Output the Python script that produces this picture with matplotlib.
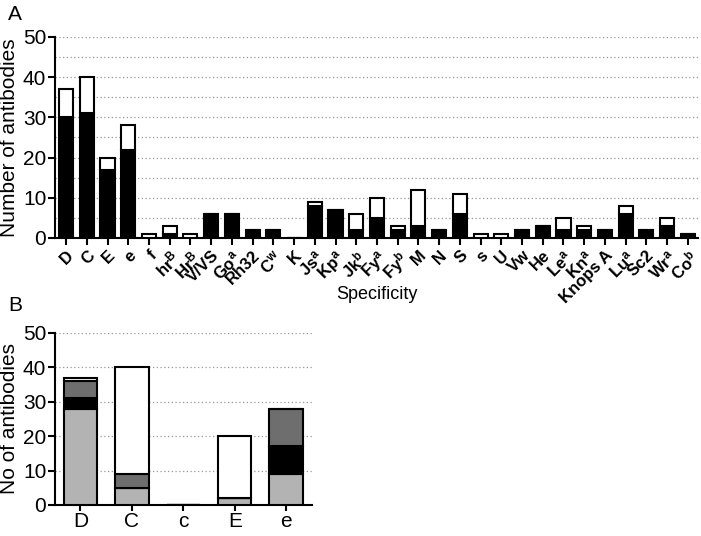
import numpy as np
import matplotlib
matplotlib.use("Agg")
import matplotlib.pyplot as plt

plt.rcParams['font.family'] = ['Liberation Sans', 'DejaVu Sans']
plt.rcParams['mathtext.fontset'] = 'custom'
plt.rcParams['mathtext.rm'] = 'Liberation Sans:bold'
plt.rcParams['mathtext.default'] = 'rm'

# Panel A: antibody specificities
spec = ['D', 'C', 'E', 'e', 'f', 'hr$^B$', 'Hr$^B$', 'V/VS', 'Go$^a$', 'Rh32',
        'C$^w$', 'K', 'Js$^a$', 'Kp$^a$', 'Jk$^b$', 'Fy$^a$', 'Fy$^b$', 'M', 'N',
        'S', 's', 'U', 'Vw', 'He', 'Le$^a$', 'Kn$^a$', 'Knops A', 'Lu$^a$',
        'Sc2', 'Wr$^a$', 'Co$^b$']
black_a = [30, 31, 17, 22, 0, 1, 0, 6, 6, 2, 2, 0, 8, 7, 2, 5, 2, 3, 2, 6,
           0, 0, 2, 3, 2, 2, 2, 6, 2, 3, 1]
total_a = [37, 40, 20, 28, 1, 3, 1, 6, 6, 2, 2, 0, 9, 7, 6, 10, 3, 12, 2, 11,
           1, 1, 2, 3, 5, 3, 2, 8, 2, 5, 1]

# Panel B: Rh antibodies split into groups
rh = ['D', 'C', 'c', 'E', 'e']
light_b = [28, 5, 0, 2, 9]
black_b = [3, 0, 0, 0, 8]
dark_b = [5, 4, 0, 0, 11]
white_b = [1, 31, 0, 18, 0]

fig = plt.figure(figsize=(7.01, 5.36), dpi=100)

# ---- Panel A ----
ax = fig.add_axes([0.078, 0.556, 0.918, 0.375])
x = np.arange(len(spec))
white_a = np.array(total_a) - np.array(black_a)
ax.bar(x, black_a, width=0.68, color='black', edgecolor='black', linewidth=1.5, zorder=3)
ax.bar(x, white_a, bottom=black_a, width=0.68, color='white', edgecolor='black',
       linewidth=1.5, zorder=3)
ax.set_xlim(-0.55, 30.5)
ax.set_ylim(0, 50)
ax.set_yticks(range(0, 51, 10))
for g in range(5, 51, 5):
    ax.axhline(g, color='#999999', linestyle=(0, (1, 2)), linewidth=0.9, zorder=1)
ax.set_xticks(x)
ax.set_xticklabels(spec, rotation=45, ha='right', rotation_mode='anchor',
                   fontweight='bold', fontsize=12)
ax.tick_params(axis='y', labelsize=15, width=1.5, length=5, pad=1)
ax.tick_params(axis='x', width=1.5, length=5, pad=2)
for s in ['top', 'right']:
    ax.spines[s].set_visible(False)
for s in ['left', 'bottom']:
    ax.spines[s].set_linewidth(1.5)
ax.set_ylabel('Number of antibodies', fontsize=15, labelpad=3)
ax.set_xlabel('Specificity', fontsize=13)
ax.xaxis.set_label_coords(0.5, -0.24)
fig.text(0.012, 0.99, 'A', fontsize=15, va='top')

# ---- Panel B ----
bx = fig.add_axes([0.078, 0.058, 0.367, 0.321])
xb = np.arange(len(rh))
b1 = np.array(light_b)
b2 = b1 + np.array(black_b)
b3 = b2 + np.array(dark_b)
kw = dict(width=0.65, edgecolor='black', linewidth=1.5, zorder=3)
bx.bar(xb, light_b, color='#b3b3b3', **kw)
bx.bar(xb, black_b, bottom=b1, color='black', **kw)
bx.bar(xb, dark_b, bottom=b2, color='#6e6e6e', **kw)
bx.bar(xb, white_b, bottom=b3, color='white', **kw)
bx.set_xlim(-0.5, 4.5)
bx.set_ylim(0, 50)
bx.set_yticks(range(0, 51, 10))
for g in range(10, 51, 10):
    bx.axhline(g, color='#999999', linestyle=(0, (1, 2)), linewidth=0.9, zorder=1)
bx.set_xticks(xb)
bx.set_xticklabels(rh, fontsize=15)
bx.tick_params(axis='y', labelsize=15, width=1.5, length=5, pad=1)
bx.tick_params(axis='x', width=1.5, length=4, pad=1)
for s in ['top', 'right']:
    bx.spines[s].set_visible(False)
for s in ['left', 'bottom']:
    bx.spines[s].set_linewidth(1.5)
bx.set_ylabel('No of antibodies', fontsize=15, labelpad=3)
fig.text(0.012, 0.448, 'B', fontsize=15, va='top')

fig.savefig('out.png', dpi=100)
